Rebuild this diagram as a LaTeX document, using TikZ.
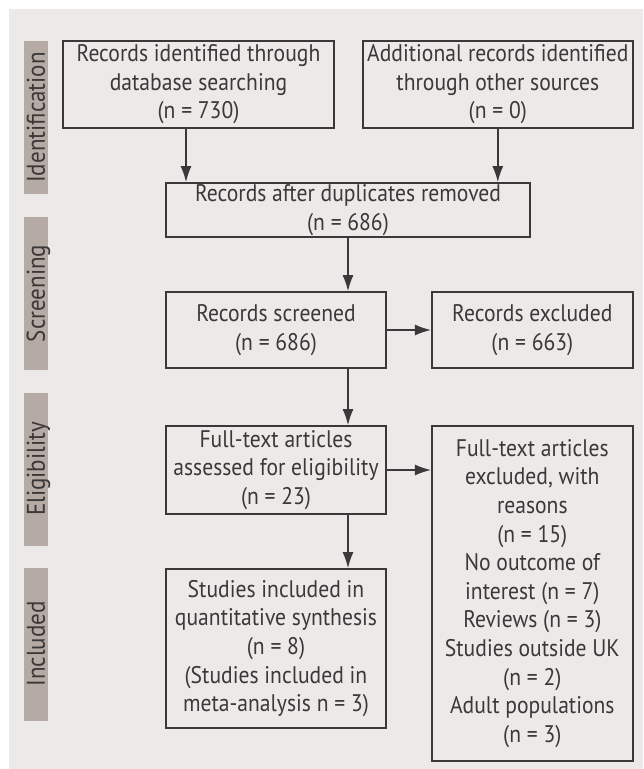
\documentclass[tikz,border=0pt]{standalone}
\usepackage{fontspec}
\setmainfont{PT Sans}[FakeStretch=0.9]
\usetikzlibrary{arrows.meta,positioning}

\definecolor{panel}{HTML}{ECEAE8}
\definecolor{stagebar}{HTML}{B6AAA5}
\definecolor{ink}{HTML}{3A3838}

\begin{document}
\begin{tikzpicture}[x=1pt,
            y=-1pt,
            >={Latex[length=8pt,width=5.5pt]},
            box/.style={draw=ink,line width=0.9pt,align=center,inner sep=0pt,
                        text=ink,font=\fontsize{12}{14.3}\selectfont},
            stage/.style={fill=stagebar,rotate=90,minimum width=76.5pt,
                          minimum height=12pt,inner sep=0pt,text=ink,
                          text height=8.8pt,text depth=0pt,
                          font=\fontsize{12.8}{12.8}\selectfont},
            arr/.style={->,draw=ink,line width=0.7pt}]

        \useasboundingbox (0,0) rectangle (321.5,384.5);
        \fill[panel] (4.5,4.5) rectangle (321.5,384.5);

        % stage bars on the left
        \node[stage] (idf) at (18,58.75)  {Identification};
        \node[stage] (scr) at (18,146.75) {Screening};
        \node[stage] (elg) at (18,234.5)  {Eligibility};
        \node[stage] (inc) at (18,322)    {Included};

        % boxes
        \node[box,minimum width=135.5pt,minimum height=43.5pt] (b1) at (99.25,42.25)
            {Records identified through\\database searching\\(n = 730)};
        \node[box,minimum width=135pt,minimum height=43.5pt] (b2) [right=13.5pt of b1]
            {Additional records identified\\through other sources\\(n = 0)};
        \node[box,minimum width=182pt,minimum height=27pt] (b3) at (174,105)
            {Records after duplicates removed\\(n = 686)};
        \node[box,minimum width=110pt,minimum height=38pt] (b4) at (138,165)
            {Records screened\\(n = 686)};
        \node[box,minimum width=100.5pt,minimum height=38pt] (b5) [right=22pt of b4]
            {Records excluded\\(n = 663)};
        \node[box,minimum width=110pt,minimum height=44pt] (b6) at (138,235)
            {Full-text articles\\assessed for eligibility\\(n = 23)};
        \node[box,minimum width=100.5pt,minimum height=167.5pt,anchor=north west] (b7)
            at ([xshift=22pt]b6.north east)
            {Full-text articles\\excluded, with\\reasons\\(n = 15)\\No outcome of\\interest (n = 7)\\
             Reviews (n = 3)\\Studies outside UK\\(n = 2)\\Adult populations\\(n = 3)};
        \node[box,minimum width=110pt,minimum height=79.5pt] (b8) at (138,324.25)
            {Studies included in\\quantitative synthesis\\(n = 8)\\(Studies included in\\meta-analysis n = 3)};

        \coordinate (c1) at (93,0);

        % connectors
        \draw[arr] (b1.south -| c1) -- (b3.north -| c1);
        \draw[arr] (b2.south) -- (b2.south |- b3.north);
        \draw[arr] (b3.south) -- (b3.south |- b4.north);
        \draw[arr] (b4.east) -- (b5.west);
        \draw[arr] (b3.south |- b4.south) -- (b3.south |- b6.north);
        \draw[arr] (b6.east) -- (b6.east -| b7.west);
        \draw[arr] (b3.south |- b6.south) -- (b3.south |- b8.north);

\end{tikzpicture}
\end{document}
